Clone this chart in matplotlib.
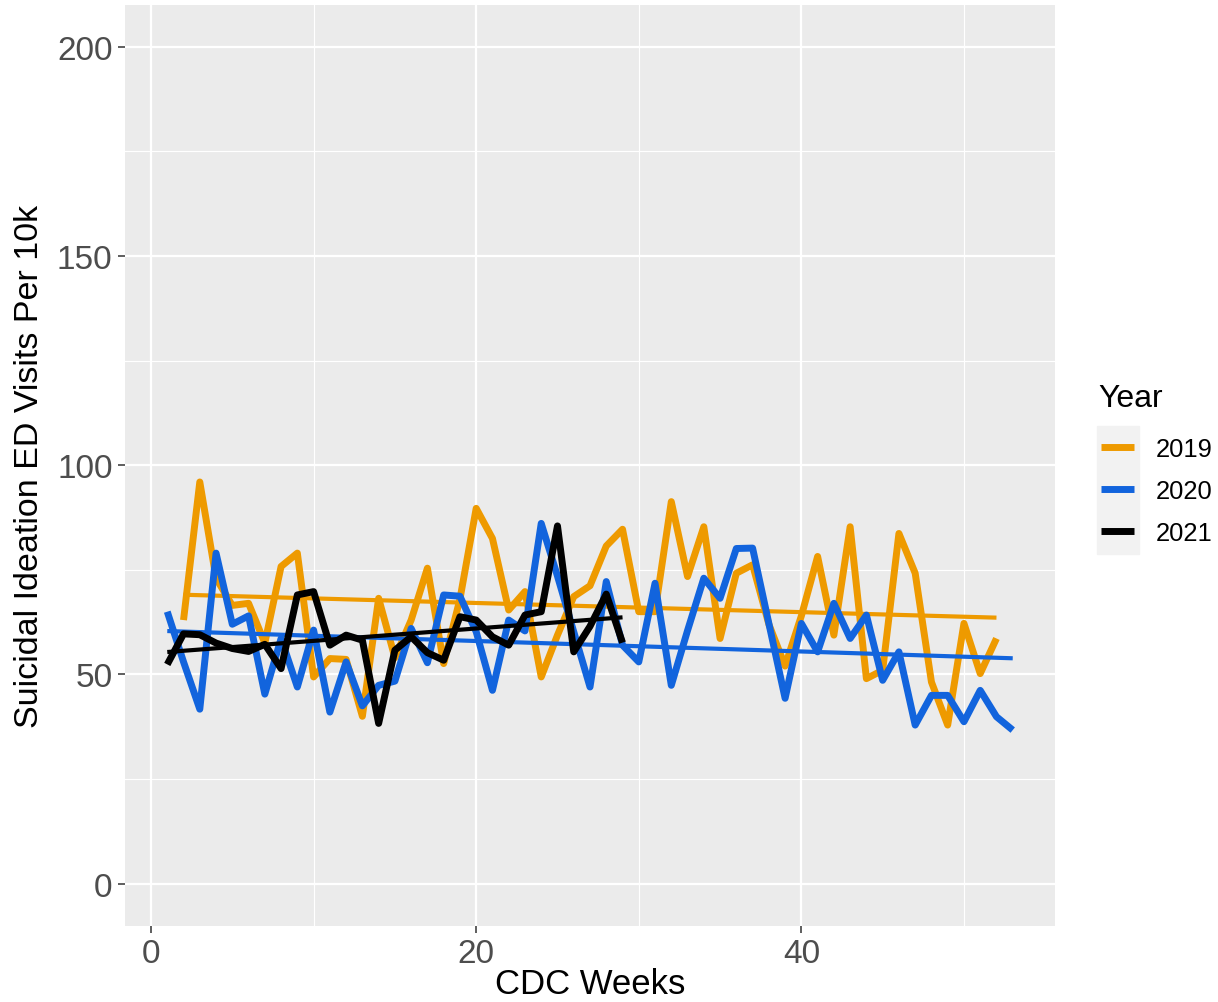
import numpy as np
import matplotlib
matplotlib.use('Agg')
import matplotlib.pyplot as plt
from matplotlib.patches import Rectangle
from matplotlib.ticker import MultipleLocator

plt.rcParams['font.family'] = ['Liberation Sans', 'DejaVu Sans']

# weekly suicidal ideation ED visits per 10k
weeks_2019 = list(range(2, 53))
visits_2019 = [63, 96, 73, 66.5, 67, 57.5, 75.8, 79, 49.4, 53.8,
	53.6, 40, 68.2, 54, 63, 75.4, 52.6, 68, 89.7, 82.5,
	65.4, 69.8, 49.4, 59.4, 68.6, 71.2, 80.7, 84.7, 65, 65,
	91.3, 73.4, 85.3, 58.6, 74.2, 76.2, 62, 52, 64, 78.2,
	59.4, 85.3, 49, 51, 83.7, 74.2, 48.2, 37.9, 62.2, 50.2,
	58.6]

weeks_2020 = list(range(1, 54))
visits_2020 = [65, 53, 41.7, 79, 62, 64, 45.3, 58.6, 47, 60.6,
	41, 53, 42.5, 47.4, 48.4, 61, 52.8, 69, 68.7, 60.2,
	46.2, 63, 60.4, 86.1, 73.5, 60.2, 47, 72.2, 57, 53,
	71.8, 47.4, 60.5, 73, 68.2, 80.1, 80.2, 62.2, 44.3, 62.2,
	55.4, 67, 58.6, 64.2, 48.6, 55.4, 37.9, 45, 45, 38.7,
	46.2, 39.9, 36.7]

weeks_2021 = list(range(1, 30))
visits_2021 = [52.4, 59.7, 59.5, 57.5, 56.2, 55.5, 57.2, 51.4, 69, 69.8,
	57, 59.4, 58.2, 38.3, 55.8, 59, 55.2, 53.4, 63.8, 63,
	59, 57, 64.2, 65, 85.5, 55.4, 61.5, 69.2, 57.6]

years = ['2019', '2020', '2021']
colors = ['#EE9A00', '#1264DD', '#000000']
series = [(weeks_2019, visits_2019), (weeks_2020, visits_2020), (weeks_2021, visits_2021)]

fig = plt.figure(figsize=(12.18, 10.03), dpi=100)
ax = fig.add_axes([125 / 1218, 1 - 926.5 / 1003, 930 / 1218, 920.5 / 1003])
ax.set_facecolor('#EBEBEB')

for (x, y), c, yr in zip(series, colors, years):
	ax.plot(x, y, color=c, lw=5, solid_joinstyle='round', solid_capstyle='butt', label=yr, zorder=3)
	# linear trend like geom_smooth(method = "lm")
	m, b = np.polyfit(x, y, 1)
	xs = np.array([min(x), max(x)])
	ax.plot(xs, m * xs + b, color=c, lw=3, solid_capstyle='butt', zorder=3)

ax.set_xlim(-1.6, 55.6)
ax.set_ylim(-10, 210)
ax.xaxis.set_major_locator(MultipleLocator(20))
ax.xaxis.set_minor_locator(MultipleLocator(10))
ax.yaxis.set_major_locator(MultipleLocator(50))
ax.yaxis.set_minor_locator(MultipleLocator(25))
ax.grid(which='major', color='white', lw=1.6)
ax.grid(which='minor', color='white', lw=0.8)
ax.set_axisbelow(True)
for s in ax.spines.values():
	s.set_visible(False)
ax.tick_params(which='major', length=5, width=1.1, color='#333333', labelcolor='#4D4D4D', labelsize=24, pad=4)
ax.tick_params(which='minor', length=0)

# x title sits right at the bottom edge, keep it just inside
ax.set_xlabel('CDC Weeks', fontsize=25, va='baseline')
ax.xaxis.set_label_coords(0.5, (926.5 - 994) / 920.5)
ax.set_ylabel('Suicidal Ideation ED Visits Per 10k', fontsize=24.5, va='center')
ax.yaxis.set_label_coords((30 - 125) / 930, 0.5)

# legend: title, grey key background, entries
fig.text(1098 / 1218, 1 - 406.7 / 1003, 'Year', fontsize=23, va='baseline', ha='left')
fig.add_artist(Rectangle((1096.7 / 1218, 1 - 555 / 1003), 42.6 / 1218, 128.3 / 1003,
	transform=fig.transFigure, color='#F2F2F2', zorder=1))
leg = fig.legend(loc='center left', bbox_to_anchor=(1100.7 / 1218, 1 - 491.7 / 1003),
	fontsize=18.4, frameon=False, borderpad=0, borderaxespad=0,
	handlelength=1.31, handletextpad=0.85, labelspacing=0.71)
for h in leg.get_lines():
	h.set_linewidth(5)
leg.set_zorder(5)

fig.savefig('out.png', dpi=100)
